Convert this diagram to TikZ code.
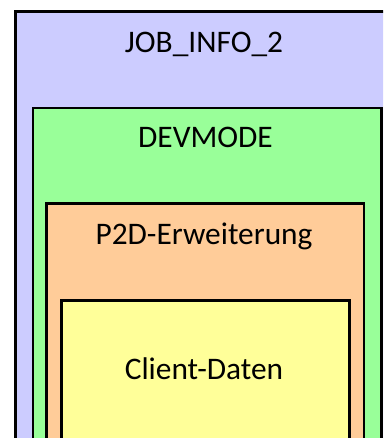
\documentclass[tikz,border=0pt]{standalone}
\usepackage{fontspec}
\setmainfont{Carlito}
\definecolor{jobblue}{HTML}{CCCCFF}
\definecolor{devgreen}{HTML}{99FF99}
\definecolor{extorange}{HTML}{FFCC99}
\definecolor{clientyellow}{HTML}{FFFF99}

\begin{document}
\begin{tikzpicture}[x=1bp,y=-1bp,
  layer/.style={draw=black,line width=2.6bp},
  caption/.style={anchor=base,inner sep=0pt,font=\fontsize{31.5}{36}\selectfont}]
  \useasboundingbox (0,0) rectangle (383,438);
  \clip (0,0) rectangle (383,438);
  \path[layer,fill=jobblue] (15.7,460) |- (390,11.5) -- (390,460);
  \path[layer,fill=devgreen] (33,460) |- (381.3,108) -- (381.3,460);
  \path[layer,fill=extorange] (46.3,460) |- (364,203.5) -- (364,460);
  \path[layer,fill=clientyellow] (61.3,460) |- (349.5,300.5) -- (349.5,460);
  \node[caption] (job) at (204,53) {JOB\_INFO\_2};
  \node[caption] (dev) at (205.5,148) {DEVMODE};
  \node[caption] (ext) at (204,244.3) {P2D-Erweiterung};
  \node[caption] (client) at (204,379) {Client-Daten};
\end{tikzpicture}
\end{document}
